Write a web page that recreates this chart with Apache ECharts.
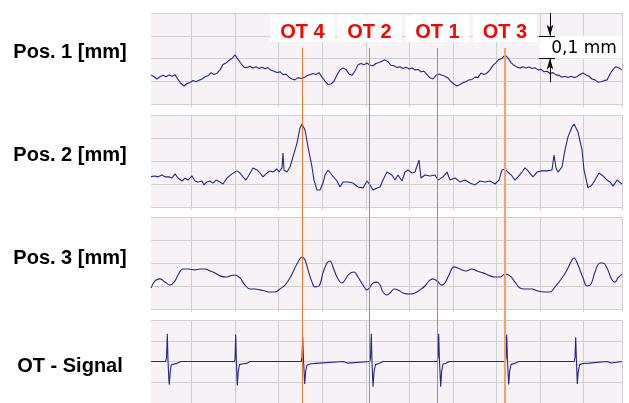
<!DOCTYPE html>
<html><head><meta charset="utf-8">
<script src="https://cdn.jsdelivr.net/npm/echarts@6/dist/echarts.min.js"></script>
<style>html,body{margin:0;padding:0;background:#fff}#c{width:629px;height:403px}</style>
</head><body><div id="c"></div>
<script>
// ---- data ----
const panelLabels = ['Pos. 1 [mm]', 'Pos. 2 [mm]', 'Pos. 3 [mm]', 'OT - Signal'];
const labelCenterY = [52, 155, 258, 366];

// Pos. 1, sampled every 3 x-units (units of 0.01 mm, panel spans 0..40)
const xStep1 = 3;
const pos1Values = [12.8,12.0,11.0,12.0,12.6,12.0,12.8,12.2,12.9,10.8,9.0,7.9,9.0,9.4,10.3,9.8,10.4,11.0,12.0,12.4,
13.8,13.0,13.5,15.0,17.4,18.0,19.2,20.0,21.6,19.6,17.8,16.2,16.0,16.6,15.8,16.4,15.6,16.2,15.5,16.0,
14.8,14.4,13.8,14.2,12.9,13.1,11.8,11.0,10.6,11.6,11.2,11.6,12.4,13.0,13.4,13.0,13.8,11.8,10.1,8.6,
8.8,10.0,12.8,15.0,15.8,15.2,13.2,12.6,14.5,17.2,17.8,17.2,18.0,17.0,16.8,17.8,18.2,18.8,19.4,18.6,
17.0,16.8,16.0,16.4,15.6,16.2,15.4,15.8,15.0,15.2,14.2,14.4,12.9,11.5,11.0,12.6,13.2,12.6,12.2,11.4,
9.8,8.8,7.9,8.6,9.4,9.8,10.6,10.8,11.8,11.6,13.6,13.0,13.6,15.0,17.0,18.2,19.6,20.0,21.6,20.2,
18.2,17.0,16.2,15.8,16.4,15.8,16.3,15.6,15.9,15.0,15.2,14.2,14.4,13.4,13.8,12.8,12.6,11.8,12.2,11.6,
12.2,11.6,12.0,13.0,13.6,12.8,12.2,11.0,10.6,9.6,9.8,10.2,10.6,13.2,15.2,16.4,15.8,15.0];

// Pos. 2 as [x, value]
const pos2Points = [[0,13.2],[4,13.5],[7,13.1],[11,13.9],[14,13.1],[18,13.1],[21,12.6],[24,14.4],[26,14.8],[27,12.6],
[31,11.3],[34,12.6],[37,11.7],[41,13.5],[44,11.3],[47,10.9],[51,11.3],[53,9.6],[56,10.9],[59,11.3],[62,10.4],
[65,11.7],[69,10.9],[72,10.0],[76,12.6],[81,14.4],[86,15.7],[89,14.8],[92,13.1],[95,11.7],[98,13.9],[102,17.0],
[106,16.1],[109,14.8],[112,13.1],[116,14.8],[119,15.7],[122,15.2],[126,16.5],[128,15.2],[131,17.0],[132,23.5],
[133,16.1],[136,15.2],[139,17.4],[142,21.8],[146,27.8],[149,34.4],[151,36.1],[154,33.5],[157,26.1],[161,17.4],
[163,11.7],[166,7.4],[169,7.4],[172,10.4],[174,13.9],[177,16.1],[181,13.9],[186,11.3],[189,8.7],[192,10.9],
[197,10.9],[202,10.4],[207,8.7],[212,8.3],[216,11.3],[219,9.6],[222,7.4],[226,8.3],[229,8.7],[232,11.7],
[236,15.2],[241,13.9],[244,11.7],[247,13.9],[251,11.3],[254,15.2],[257,16.1],[261,14.8],[264,15.2],[266,14.4],
[268,20.4],[270,12.6],[274,13.9],[279,13.5],[284,13.9],[287,11.7],[292,13.1],[296,15.2],[299,11.7],[304,12.6],
[309,10.9],[314,11.7],[319,10.4],[324,9.6],[329,11.3],[334,10.9],[339,11.3],[344,10.0],[348,11.7],[351,16.1],
[354,16.5],[357,15.2],[361,13.5],[364,11.7],[367,13.1],[371,15.2],[374,17.0],[377,15.7],[382,13.1],[386,15.2],
[391,15.7],[396,15.7],[401,16.1],[403,22.6],[405,17.0],[407,15.2],[411,17.4],[414,24.8],[417,30.5],[421,34.8],
[423,36.1],[427,32.6],[431,24.8],[433,16.1],[437,8.3],[441,9.6],[444,11.7],[448,14.8],[452,13.5],[456,11.7],
[459,10.9],[462,9.1],[466,11.7],[468,10.9],[471,10.0]];

// Pos. 3 as [x, value]
const pos3Points = [[0,9.1],[4,12.2],[9,13.1],[14,11.7],[19,10.4],[24,12.2],[27,14.8],[32,17.4],[37,17.4],[44,17.0],
[49,17.4],[54,17.4],[59,16.5],[64,15.7],[69,14.4],[75,13.9],[79,14.4],[84,14.8],[89,13.5],[94,10.4],[99,8.7],
[104,8.7],[109,8.3],[114,7.8],[119,7.4],[124,7.4],[129,8.7],[134,10.4],[139,13.5],[143,17.0],[147,20.4],[151,22.6],
[154,21.3],[157,17.0],[161,11.7],[164,9.6],[168,10.0],[172,15.7],[176,20.0],[179,20.9],[182,18.3],[186,13.9],
[191,11.3],[194,12.6],[198,15.2],[203,16.1],[207,13.9],[212,10.4],[216,8.3],[219,9.6],[222,11.3],[226,11.7],
[229,10.4],[232,7.4],[236,6.1],[240,7.4],[243,8.7],[247,8.3],[252,7.0],[259,6.5],[264,7.0],[269,8.3],[274,10.0],
[278,12.2],[282,13.1],[286,12.2],[291,10.4],[294,11.3],[298,14.8],[303,18.3],[309,17.4],[315,16.5],[321,17.4],
[326,16.5],[332,15.7],[339,14.4],[344,13.9],[349,13.9],[354,15.2],[359,14.4],[364,11.7],[369,9.1],[374,8.7],
[381,8.7],[387,7.8],[394,7.4],[399,7.4],[404,9.6],[411,13.5],[416,17.0],[421,21.3],[423,22.2],[427,19.1],
[432,13.5],[436,10.0],[440,10.9],[444,16.1],[449,20.0],[452,20.0],[456,17.8],[461,12.6],[464,11.7],[467,13.5],[471,15.2]];

// OT signal as [x, value]
const otSignalPoints = [[0,20],[14.5,20],[15.5,21.5],[16.3,33.4],[17,20.5],[17.8,12],[18.3,8.8],[19.2,15],[20.2,18.4],[22,18.8],[26,19.1],[30,20],
[83.2,20],[84,21],[84.7,33.0],[85.4,20],[86.3,8.4],[87.2,15],[88.5,18.5],[92,18.9],[96,19.1],[99,20],
[150.3,20],[151,22.5],[151.7,31.7],[152.5,21],[153.7,9.2],[154.6,15],[156,18.3],[160,18.9],[165,19.1],[167,20],[192,20],[193,19.2],[197,19.2],[198,20],
[218.8,20],[219.5,21.5],[220.3,33.4],[221,20],[222,7.9],[223,15],[224.5,18.5],[228,19],[232,20],
[286.2,20],[287,22],[287.7,33.4],[288.4,21],[289.7,7.9],[290.6,15],[292,18.8],[295,19.2],[298,20],
[354.2,20],[355,21.5],[355.7,33.0],[356.5,20],[357.7,8.9],[358.6,15],[360,18.6],[364,19.1],[368,20],
[423.2,20],[424,22],[424.7,31.7],[425.4,21],[426.3,9.2],[427.2,15],[428.6,18.5],[432,19],[438,19.2],[440,20],[456,20],[457,19.3],[460,19.3],[461,20],[471,20]];

const gridX = [40, 84, 127, 171, 215, 258, 302, 345, 389, 432, 471];
const otNames = ['OT 4', 'OT 2', 'OT 1', 'OT 3'];
const otPositions = [151.5, 218.5, 286.5, 354];
const scaleText = '0,1 mm';
const scaleX = 399, scaleLow = 20, scaleHigh = 30;

// ---- chart ----
const chart = echarts.init(document.getElementById('c'), null, {renderer: 'canvas'});
const GRID = '#cfcfcf', BG = '#f6f2f6', TRACE = '#262684';
const FONT = 'Liberation Sans, Arial, sans-serif';
const panels = [{top: 13, height: 91}, {top: 115, height: 92}, {top: 217, height: 92}, {top: 320, height: 91}];

const grid = panels.map(p => ({left: 151, width: 471, top: p.top, height: p.height, show: true, backgroundColor: BG, borderWidth: 0}));
grid.push({left: 151, width: 471, top: 48, height: 360, show: false});

const xAxis = panels.map((p, i) => ({
  gridIndex: i, type: 'value', min: 0, max: 471,
  axisLine: {show: false}, axisLabel: {show: false},
  axisTick: {show: true, customValues: gridX, length: 3, lineStyle: {color: GRID}},
  splitLine: {show: true, lineStyle: {color: GRID, width: 1}}
}));
xAxis.push({gridIndex: 4, type: 'value', min: 0, max: 471, show: false});

const yAxis = panels.map((p, i) => ({
  gridIndex: i, type: 'value', min: 0, max: 40, interval: 10,
  axisLine: {show: false}, axisLabel: {show: false}, axisTick: {show: false},
  splitLine: {show: true, lineStyle: {color: GRID, width: 1}}
}));
yAxis.push({gridIndex: 4, type: 'value', min: 0, max: 1, show: false});

const traceBase = {type: 'line', showSymbol: false, symbol: 'none', silent: true,
  lineStyle: {color: TRACE, width: 1.1}, animation: false};

const series = [
  Object.assign({}, traceBase, {
    xAxisIndex: 0, yAxisIndex: 0,
    data: pos1Values.map((v, i) => [i * xStep1, v]),
    markLine: {
      silent: true, animation: false, symbol: ['none', 'none'],
      lineStyle: {color: '#000', width: 1, type: 'solid'}, label: {show: false},
      data: [
        [{coord: [scaleX, 40]}, {coord: [scaleX, scaleHigh], symbol: 'arrow', symbolSize: [5, 11]}],
        [{coord: [scaleX - 11, scaleHigh]}, {coord: [scaleX + 5, scaleHigh]}],
        [{coord: [scaleX - 11, scaleLow]}, {coord: [scaleX + 5, scaleLow]}],
        [{coord: [scaleX, 9.6]}, {coord: [scaleX, scaleLow], symbol: 'arrow', symbolSize: [5, 11]}]
      ]
    },
    markArea: {
      silent: true, animation: false,
      itemStyle: {color: '#ffffff', opacity: 1},
      label: {show: true, position: 'inside', formatter: '{b}', color: '#000', fontSize: 17,
        fontFamily: 'DejaVu Sans, sans-serif', offset: [3, 1]},
      data: [[{name: scaleText, coord: [scaleX - 10, scaleHigh]}, {coord: [471, scaleLow]}]]
    }
  }),
  Object.assign({}, traceBase, {xAxisIndex: 1, yAxisIndex: 1, data: pos2Points}),
  Object.assign({}, traceBase, {xAxisIndex: 2, yAxisIndex: 2, data: pos3Points, smooth: 0.4}),
  Object.assign({}, traceBase, {xAxisIndex: 3, yAxisIndex: 3, data: otSignalPoints}),
  {
    type: 'line', xAxisIndex: 4, yAxisIndex: 4, data: [], silent: true, animation: false,
    markLine: {
      silent: true, animation: false, symbol: ['none', 'none'],
      label: {show: true, position: 'end', distance: 6, formatter: '{b}', color: '#ff0000',
        fontSize: 20, fontWeight: 'bold', fontFamily: FONT, backgroundColor: '#ffffff',
        width: 64, height: 20, lineHeight: 20, padding: [7, 0, 0, 0]},
      data: otPositions.map((x, i) => ({
        xAxis: x, name: otNames[i],
        lineStyle: i === 3 ? {color: '#f7a262', width: 2, type: 'solid'} : {color: '#ee7428', width: 1, type: 'solid'}
      }))
    }
  }
];

const graphic = panelLabels.map((t, i) => ({
  type: 'text', x: 70, y: labelCenterY[i], silent: true,
  style: {text: t, fill: '#000', font: 'bold 20px ' + FONT,
    align: 'center', verticalAlign: 'middle', textAlign: 'center', textVerticalAlign: 'middle'}
}));

chart.setOption({animation: false, backgroundColor: '#ffffff', grid, xAxis, yAxis, series, graphic});
</script></body></html>
